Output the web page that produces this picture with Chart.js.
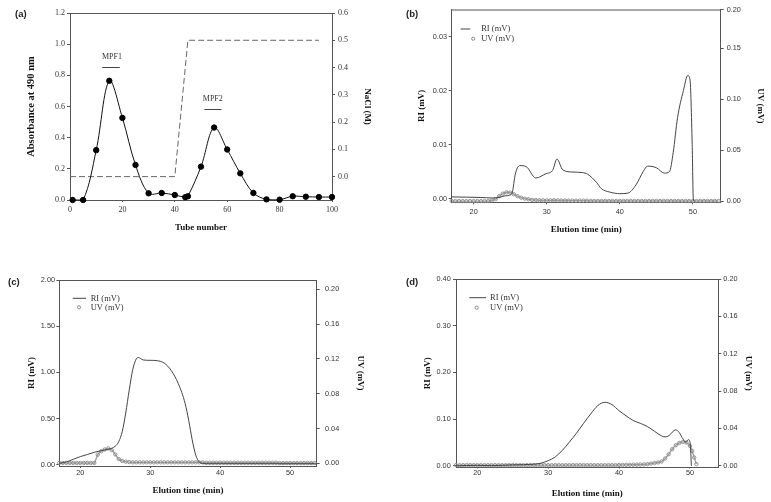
<!DOCTYPE html>
<html lang="en">
<head>
<meta charset="UTF-8">
<title>Polysaccharide fractionation</title>
<script src="https://cdn.jsdelivr.net/npm/chart.js"></script>
<style>
  body { margin: 0; background: #fff; }
  #wrap { position: relative; width: 771px; height: 502px; overflow: hidden; }
  #wrap canvas { position: absolute; }
  .tag { position: absolute; font: bold 9.5px "Liberation Sans", Arial, sans-serif; color: #222; }
</style>
</head>
<body>
<div id="wrap">
  <canvas id="chartA" style="left:0;top:0" width="385" height="246"></canvas>
  <canvas id="chartB" style="left:385px;top:0" width="386" height="248"></canvas>
  <canvas id="chartC" style="left:0;top:250px" width="385" height="252"></canvas>
  <canvas id="chartD" style="left:385px;top:250px" width="386" height="252"></canvas>
  <div class="tag" style="left:15px;top:8px">(a)</div>
  <div class="tag" style="left:406px;top:8px">(b)</div>
  <div class="tag" style="left:8px;top:276px">(c)</div>
  <div class="tag" style="left:406px;top:276px">(d)</div>
</div>

<script>
// ---- (a) DEAE elution profile ----
const tubeA = [1, 5, 10, 15, 20, 25, 30, 35, 40, 44, 45, 50, 55, 60, 65, 70, 75, 80, 85, 90, 95, 100];
const absA = [0.0, 0.0, 0.32, 0.765, 0.527, 0.225, 0.043, 0.045, 0.032, 0.018, 0.024, 0.214,
              0.465, 0.324, 0.171, 0.045, 0.004, 0.002, 0.024, 0.021, 0.019, 0.019];
const naclTube = [0, 40, 45, 95];
const naclA = [0, 0, 0.5, 0.5];
const tubeTicks = [0, 20, 40, 60, 80, 100];
const absTicks = [0, 0.2, 0.4, 0.6, 0.8, 1.0, 1.2];
const naclTicks = [0, 0.1, 0.2, 0.3, 0.4, 0.5, 0.6];
const peakNames = ['MPF1', 'MPF2'];
const peakTube = [16, 54.5];
const peakTextY = [0.92, 0.646];
const barFrom = [12.3, 51.3];
const barTo = [19, 57.8];
const barY = [0.851, 0.582];

// ---- (b)-(d) HPGPC traces ----
const timeTicks = [20, 30, 40, 50];

const timeRiB = [17, 19, 21, 22.5, 23.5, 24.3, 24.9, 25.3, 25.7, 26.3, 27.2, 28.5, 29.9, 30.8, 31.4, 32.2,
                 33.6, 34.9, 35.6, 36.8, 37.5, 38.6, 40.0, 41.1, 42.2, 43.2, 43.8, 45.0, 46.1, 46.8, 47.3,
                 47.9, 48.7, 49.3, 49.6, 49.9, 50.05, 50.2];
const riB = [0.0003, 0.00025, 0.0002, 0.0001, 0.0002, 0.0005, 0.0006, 0.0012, 0.0045, 0.0061, 0.0059,
             0.0038, 0.0046, 0.0052, 0.0073, 0.0053, 0.0049, 0.0048, 0.0045, 0.0030, 0.0018, 0.0012,
             0.0009, 0.0010, 0.0025, 0.0050, 0.0060, 0.0057, 0.0047, 0.0050, 0.0085, 0.0150, 0.0200,
             0.0228, 0.0220, 0.0100, 0.0000, -0.0005];

const uvTime = [17, 17.5, 18, 18.5, 19, 19.5, 20, 20.5, 21, 21.5, 22, 22.5, 23, 23.5, 24, 24.5, 25, 25.5,
                26, 26.5, 27, 27.5, 28, 28.5, 29, 29.5, 30, 30.5, 31, 31.5, 32, 32.5, 33, 33.5, 34, 34.5,
                35, 35.5, 36, 36.5, 37, 37.5, 38, 38.5, 39, 39.5, 40, 40.5, 41, 41.5, 42, 42.5, 43, 43.5,
                44, 44.5, 45, 45.5, 46, 46.5, 47, 47.5, 48, 48.5, 49, 49.5, 50, 50.5, 51, 51.5, 52, 52.5,
                53, 53.5];
const uvB = [0.0002, 0.0002, 0.0002, 0.0002, 0.0002, 0.0002, 0.0002, 0.0002, 0.0002, 0.0002, 0.0002,
             0.0008, 0.002, 0.005, 0.0075, 0.0088, 0.0085, 0.0069, 0.005, 0.0036, 0.0026, 0.002, 0.0014,
             0.0012, 0.001, 0.0009, 0.0008, 0.0009, 0.001, 0.0009, 0.0008, 0.0007, 0.0007, 0.0006, 0.0006,
             0.0006, 0.0006, 0.0005,
             0.0003, 0.0003, 0.0003, 0.0003, 0.0003, 0.0003, 0.0003, 0.0003, 0.0003, 0.0003, 0.0003, 0.0003,
             0.0003, 0.0003, 0.0003, 0.0003, 0.0003, 0.0003, 0.0003, 0.0003, 0.0003, 0.0003, 0.0003, 0.0003,
             0.0003, 0.0003, 0.0003, 0.0003, 0.0003, 0.0003, 0.0003, 0.0003, 0.0003, 0.0003, 0.0003, 0.0003];

const timeRiC = [17, 18, 19, 20, 21, 22, 23, 24, 25, 25.5, 26, 26.5, 27, 27.5, 28, 28.3, 29, 30, 31, 32,
                 33, 34, 35, 35.5, 36, 36.5, 37, 37.5, 38, 40, 45, 50, 53.8];
const riC = [0.014, 0.03, 0.058, 0.087, 0.11, 0.134, 0.152, 0.166, 0.20, 0.25, 0.36, 0.56, 0.81, 1.03,
             1.145, 1.16, 1.134, 1.13, 1.126, 1.10, 1.02, 0.88, 0.66, 0.48, 0.27, 0.105, 0.03, 0.012,
             0.01, 0.01, 0.01, 0.01, 0.01];
const uvC = [0.0005, 0.0005, 0.0005, 0.0005, 0.0005, 0.0005, 0.0005, 0.0005, 0.0005, 0.0005, 0.0005,
             0.010, 0.014, 0.016, 0.0172, 0.0153, 0.0103, 0.005, 0.0027, 0.002, 0.0015,
             0.0012, 0.0012, 0.0012, 0.0012, 0.0012, 0.0012, 0.0012, 0.0012, 0.0012, 0.0012, 0.0012,
             0.0012, 0.0012, 0.0012, 0.0012, 0.0012, 0.0012, 0.0012, 0.0012, 0.0012, 0.0012,
             0.0008, 0.0008, 0.0008, 0.0008, 0.0008, 0.0008, 0.0008, 0.0008, 0.0008, 0.0008, 0.0008,
             0.0008, 0.0008, 0.0008, 0.0008, 0.0008, 0.0008, 0.0008, 0.0008, 0.0008, 0.0008,
             0.0004, 0.0004, 0.0004, 0.0004, 0.0004, 0.0004, 0.0004, 0.0004, 0.0004, 0.0004, 0.0004];

const timeRiD = [17, 20, 22, 25, 28, 29, 30, 31, 32, 33, 34, 35, 36, 37, 38, 39, 40, 41, 42, 43, 44, 45,
                 46, 46.5, 47, 47.5, 48, 48.5, 49, 49.4, 49.8, 50.05, 50.2];
const riD = [0, 0.001, 0.0005, 0.002, 0.0035, 0.0057, 0.011, 0.019, 0.033, 0.051, 0.070, 0.091, 0.111,
             0.129, 0.136, 0.131, 0.118, 0.107, 0.097, 0.091, 0.084, 0.074, 0.064, 0.062, 0.064, 0.072,
             0.077, 0.071, 0.058, 0.051, 0.056, 0.046, 0.0];
const uvTimeD = [17, 17.5, 18, 18.5, 19, 19.5, 20, 20.5, 21, 21.5, 22, 22.5, 23, 23.5, 24, 24.5, 25, 25.5,
                 26, 26.5, 27, 27.5, 28, 28.5, 29, 29.5, 30, 30.5, 31, 31.5, 32, 32.5, 33, 33.5, 34, 34.5,
                 35, 35.5, 36, 36.5, 37, 37.5, 38, 38.5, 39, 39.5, 40, 40.5, 41, 41.5, 42, 42.5, 43, 43.5,
                 44, 44.5, 45, 45.5, 46, 46.5, 47, 47.5, 48, 48.5, 49, 49.5, 50, 50.3, 50.6, 50.9];
const uvD = [0.0007, 0.0007, 0.0007, 0.0007, 0.0007, 0.0007, 0.0007, 0.0007, 0.0007, 0.0007,
             0.0007, 0.0007, 0.0007, 0.0007, 0.0007, 0.0007, 0.0007, 0.0007, 0.0007, 0.0007,
             0.0007, 0.0007, 0.0007, 0.0007, 0.0007, 0.0007, 0.0007, 0.0007, 0.0007, 0.0007,
             0.0007, 0.0007, 0.0007, 0.0007, 0.0007, 0.0007, 0.0007, 0.0007, 0.0007, 0.0007,
             0.0007, 0.0007, 0.0007, 0.0007, 0.0007, 0.0007,
             0.0009, 0.001, 0.001, 0.0011, 0.0012, 0.0012, 0.0013, 0.0015,
             0.0018, 0.0024, 0.003, 0.0036, 0.0046, 0.0078, 0.0124, 0.0178, 0.022, 0.0245, 0.0256, 0.0249,
             0.0213, 0.016, 0.0089, 0.0018];

const riTicksB = [0, 0.01, 0.02, 0.03];
const uvTicksB = [0, 0.05, 0.10, 0.15, 0.20];
const riTicksC = [0, 0.5, 1.0, 1.5, 2.0];
const uvTicksC = [0, 0.04, 0.08, 0.12, 0.16, 0.20];
const riTicksD = [0, 0.1, 0.2, 0.3, 0.4];
const uvTicksD = [0, 0.04, 0.08, 0.12, 0.16, 0.20];

const serif = '"Liberation Serif", "Times New Roman", serif';
const sans = '"Liberation Sans", Arial, sans-serif';
const ink = '#333';
const axisColor = '#555';

Chart.defaults.font.family = serif;
Chart.defaults.animation = false;

const pts = (xs, ys) => xs.map((x, i) => ({ x: x, y: ys[i] }));

// y axis with a fixed box width so the plot area lands where the figure has it
function yAxis(o) {
  return {
    type: 'linear', position: o.pos, min: o.min, max: o.max,
    afterFit: s => { s.width = o.box; },
    afterBuildTicks: s => { s.ticks = o.ticks.map(v => ({ value: Math.min(v, o.max) })); },
    grid: { drawOnChartArea: false, drawTicks: true, tickLength: 3, color: axisColor },
    border: { display: true, color: axisColor, width: 1 },
    ticks: { padding: o.tickPad, color: ink, font: o.tickFont, callback: (v, i) => o.ticks[i].toFixed(o.dec) },
    title: { display: true, text: o.title, color: '#111', font: o.titleFont, padding: { top: o.titlePad, bottom: 0 } }
  };
}

function xAxis(o) {
  return {
    type: 'linear', position: 'bottom', min: o.min, max: o.max,
    afterFit: s => { s.height = o.box; },
    afterBuildTicks: s => { s.ticks = o.ticks.map(v => ({ value: v })); },
    grid: { drawOnChartArea: false, drawTicks: true, tickLength: o.tl, color: axisColor },
    border: { display: true, color: axisColor, width: 1 },
    ticks: { padding: o.tickPad, color: ink, font: o.tickFont, maxRotation: 0, autoSkip: false },
    title: { display: true, text: o.title, color: '#111', font: o.titleFont, padding: { top: 0, bottom: o.titlePad } }
  };
}

const frameTop = {
  id: 'frameTop',
  afterDraw(chart) {
    const { ctx, chartArea: a } = chart;
    ctx.save();
    ctx.strokeStyle = axisColor;
    ctx.lineWidth = 1;
    ctx.beginPath();
    ctx.moveTo(a.left, a.top + 0.5);
    ctx.lineTo(a.right, a.top + 0.5);
    ctx.stroke();
    ctx.restore();
  }
};

// small legend drawn inside the plot area, offsets from its top-left corner
function insetLegend(p) {
  return {
    id: 'insetLegend',
    afterDraw(chart) {
      const { ctx, chartArea: a } = chart;
      const ri = chart.data.datasets[0], uv = chart.data.datasets[1];
      ctx.save();
      ctx.strokeStyle = ri.borderColor;
      ctx.lineWidth = 1;
      ctx.beginPath();
      ctx.moveTo(a.left + p.x1, a.top + p.y1);
      ctx.lineTo(a.left + p.x2, a.top + p.y1);
      ctx.stroke();
      ctx.strokeStyle = uv.pointBorderColor;
      ctx.beginPath();
      ctx.arc(a.left + p.mx, a.top + p.y2, 1.6, 0, Math.PI * 2);
      ctx.stroke();
      ctx.fillStyle = ink;
      ctx.font = '8.5px ' + serif;
      ctx.textBaseline = 'middle';
      ctx.fillText(ri.label, a.left + p.tx, a.top + p.y1);
      ctx.fillText(uv.label, a.left + p.tx, a.top + p.y2);
      ctx.restore();
    }
  };
}

const peakMarks = {
  id: 'peakMarks',
  afterDatasetsDraw(chart) {
    const { ctx, scales: { x, y } } = chart;
    ctx.save();
    ctx.font = '8px ' + serif;
    ctx.fillStyle = ink;
    ctx.textAlign = 'center';
    ctx.textBaseline = 'middle';
    ctx.strokeStyle = '#444';
    ctx.lineWidth = 1;
    peakNames.forEach((name, i) => {
      ctx.fillText(name, x.getPixelForValue(peakTube[i]), y.getPixelForValue(peakTextY[i]));
      const yy = Math.round(y.getPixelForValue(barY[i])) + 0.5;
      ctx.beginPath();
      ctx.moveTo(x.getPixelForValue(barFrom[i]), yy);
      ctx.lineTo(x.getPixelForValue(barTo[i]), yy);
      ctx.stroke();
    });
    ctx.restore();
  }
};

const noChrome = { legend: { display: false }, tooltip: { enabled: false } };

// ---- panel (a) ----
new Chart(document.getElementById('chartA'), {
  type: 'line',
  data: {
    datasets: [{
      label: 'Absorbance at 490 nm',
      data: pts(tubeA, absA),
      yAxisID: 'y',
      borderColor: '#111',
      borderWidth: 1,
      pointRadius: 2.7,
      pointBackgroundColor: '#000',
      pointBorderColor: '#000',
      tension: 0.35,
      clip: false
    }, {
      label: 'NaCl (M)',
      data: pts(naclTube, naclA),
      yAxisID: 'y2',
      borderColor: '#666',
      borderWidth: 1,
      borderDash: [6, 3],
      pointRadius: 0,
      tension: 0
    }]
  },
  options: {
    responsive: false,
    layout: { padding: { top: 13, left: 0, right: 0, bottom: 0 } },
    plugins: noChrome,
    scales: {
      x: xAxis({ min: 0, max: 100, ticks: tubeTicks, box: 46, tl: 2, tickPad: 3.5,
                 tickFont: { family: serif, size: 8 }, title: 'Tube number',
                 titleFont: { family: serif, size: 9, weight: 'bold' }, titlePad: 12.9 }),
      y: yAxis({ pos: 'left', min: 0, max: 1.2, ticks: absTicks, dec: 1, box: 70, tickPad: 2,
                 tickFont: { family: serif, size: 8 }, title: 'Absorbance at 490 nm',
                 titleFont: { family: serif, size: 10.5, weight: 'bold' }, titlePad: 24.7 }),
      y2: yAxis({ pos: 'right', min: -0.15 / 1.75, max: 0.6, ticks: naclTicks, dec: 1, box: 53, tickPad: 3,
                  tickFont: { family: serif, size: 8 }, title: 'NaCl (M)',
                  titleFont: { family: serif, size: 9, weight: 'bold' }, titlePad: 11.9 })
    }
  },
  plugins: [frameTop, peakMarks]
});

// shared dataset styles for the GPC panels
function riSet(xs, ys) {
  return {
    label: 'RI (mV)', data: pts(xs, ys), yAxisID: 'y',
    borderColor: '#444', borderWidth: 1, pointRadius: 0,
    cubicInterpolationMode: 'monotone'
  };
}
function uvSet(xs, ys) {
  return {
    label: 'UV (mV)', data: pts(xs, ys), yAxisID: 'y2',
    borderColor: 'rgba(150,150,150,0.9)', borderWidth: 1.4,
    pointRadius: 1.7, pointBorderWidth: 0.9,
    pointBorderColor: '#8a8a8a', pointBackgroundColor: 'rgba(255,255,255,0)',
    tension: 0.3, clip: false
  };
}
const tickSans = { family: sans, size: 7.3 };
const titleBold = { family: serif, size: 9, weight: 'bold' };

// ---- panel (b) ----
new Chart(document.getElementById('chartB'), {
  type: 'line',
  data: { datasets: [riSet(timeRiB, riB), uvSet(uvTime, uvB)] },
  options: {
    responsive: false,
    layout: { padding: { top: 9.5, left: 0, right: 0, bottom: 0 } },
    plugins: noChrome,
    scales: {
      x: xAxis({ min: 17, max: 53.8, ticks: timeTicks, box: 45.7, tl: 2, tickPad: 3.3, tickFont: tickSans,
                 title: 'Elution time (min)', titleFont: titleBold, titlePad: 12.6 }),
      y: yAxis({ pos: 'left', min: -0.0007, max: 0.035, ticks: riTicksB, dec: 2, box: 66.7, tickPad: 1.7,
                 tickFont: tickSans, title: 'RI (mV)', titleFont: titleBold, titlePad: 31.3 }),
      y2: yAxis({ pos: 'right', min: -0.001, max: 0.188, ticks: uvTicksB, dec: 2, box: 50.3, tickPad: 3,
                  tickFont: tickSans, title: 'UV (mV)', titleFont: titleBold, titlePad: 5.6 })
    }
  },
  plugins: [frameTop, insetLegend({ x1: 9, x2: 18.5, y1: 19.5, mx: 21.5, y2: 29.2, tx: 29.5 })]
});

// ---- panel (c) ----
new Chart(document.getElementById('chartC'), {
  type: 'line',
  data: { datasets: [riSet(timeRiC, riC), uvSet(uvTime, uvC)] },
  options: {
    responsive: false,
    layout: { padding: { top: 30, left: 0, right: 0, bottom: 0 } },
    plugins: noChrome,
    scales: {
      x: xAxis({ min: 17, max: 53.8, ticks: timeTicks, box: 36, tl: 2, tickPad: 0.5, tickFont: tickSans,
                 title: 'Elution time (min)', titleFont: titleBold, titlePad: 5.9 }),
      y: yAxis({ pos: 'left', min: -0.0144, max: 2.0, ticks: riTicksC, dec: 2, box: 59.3, tickPad: 1.3,
                 tickFont: tickSans, title: 'RI (mV)', titleFont: titleBold, titlePad: 26.3 }),
      y2: yAxis({ pos: 'right', min: -0.003, max: 0.2107, ticks: uvTicksC, dec: 2, box: 68.3, tickPad: 5.3,
                  tickFont: tickSans, title: 'UV (mV)', titleFont: titleBold, titlePad: 19.6 })
    }
  },
  plugins: [frameTop, insetLegend({ x1: 13.4, x2: 26.7, y1: 18.3, mx: 19.7, y2: 27.3, tx: 31.4 })]
});

// ---- panel (d) ----
new Chart(document.getElementById('chartD'), {
  type: 'line',
  data: { datasets: [riSet(timeRiD, riD), uvSet(uvTimeD, uvD)] },
  options: {
    responsive: false,
    layout: { padding: { top: 29, left: 0, right: 0, bottom: 0 } },
    plugins: noChrome,
    scales: {
      x: xAxis({ min: 17, max: 54, ticks: timeTicks, box: 34.5, tl: 1, tickPad: 0.5, tickFont: tickSans,
                 title: 'Elution time (min)', titleFont: titleBold, titlePad: 3.3 }),
      y: yAxis({ pos: 'left', min: -0.0036, max: 0.4, ticks: riTicksD, dec: 2, box: 71, tickPad: 2.3,
                 tickFont: tickSans, title: 'RI (mV)', titleFont: titleBold, titlePad: 37.3 }),
      y2: yAxis({ pos: 'right', min: -0.0018, max: 0.2, ticks: uvTicksD, dec: 2, box: 52.7, tickPad: 2,
                  tickFont: tickSans, title: 'UV (mV)', titleFont: titleBold, titlePad: 17.3 })
    }
  },
  plugins: [frameTop, insetLegend({ x1: 13.3, x2: 30, y1: 18.7, mx: 20.7, y2: 28.7, tx: 34 })]
});
</script>
</body>
</html>
